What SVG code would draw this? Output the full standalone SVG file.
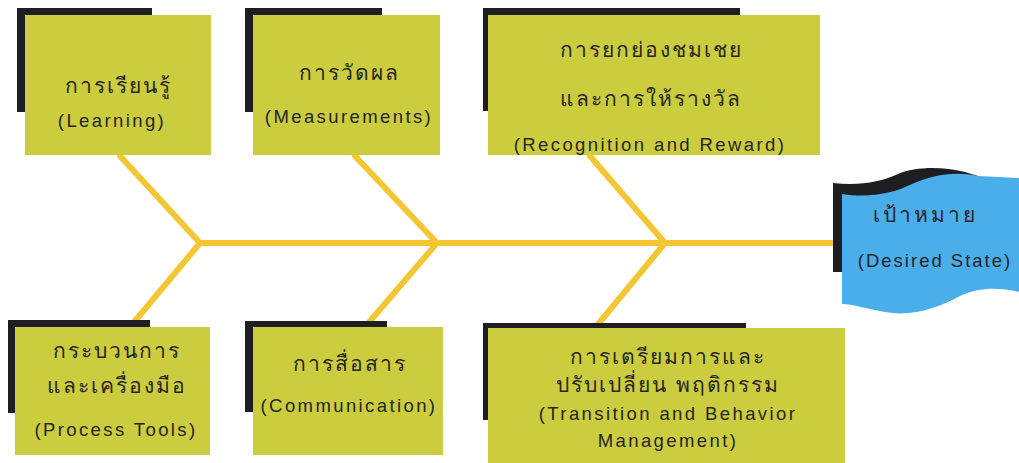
<svg xmlns="http://www.w3.org/2000/svg" width="1019" height="463" viewBox="0 0 1019 463">
<style>
.sh{fill:#1e1e22}
.bx{fill:#cccd3e}
.ln{stroke:#f3c634;stroke-width:6;fill:none;stroke-linecap:round;stroke-linejoin:round}
.th{font-family:"Noto Sans","DejaVu Sans",sans-serif;font-size:21px;fill:#262626;text-anchor:middle;letter-spacing:2px}
.en{font-family:"Liberation Sans",Arial,sans-serif;font-size:18.5px;fill:#262626;text-anchor:middle;letter-spacing:2.4px}
</style>
<rect width="1019" height="463" fill="#ffffff"/>
<g id="connectors">
<path class="ln" d="M200,243 L836,243"/>
<path class="ln" d="M120,156 L200,243 L130,327"/>
<path class="ln" d="M355,156 L437,243 L365,327"/>
<path class="ln" d="M590,156 L665,243 L595,328"/>
</g>
<g id="learning">
<rect class="sh" x="17" y="8" width="135" height="104"/>
<rect class="bx" x="25" y="15" width="186" height="140"/>
<text class="th" x="118" y="93">การเรียนรู้</text>
<text class="en" x="112" y="127">(Learning)</text>
</g>
<g id="measurements">
<rect class="sh" x="245" y="8" width="137" height="104"/>
<rect class="bx" x="253" y="15" width="187" height="140"/>
<text class="th" x="349" y="80">การวัดผล</text>
<text class="en" x="349" y="123">(Measurements)</text>
</g>
<g id="recognition">
<rect class="sh" x="483" y="8" width="257" height="103"/>
<rect class="bx" x="488" y="15" width="332" height="140"/>
<text class="th" x="651" y="57">การยกย่องชมเชย</text>
<text class="th" x="651" y="106">และการให้รางวัล</text>
<text class="en" x="650" y="151">(Recognition and Reward)</text>
</g>
<g id="desired-state">
<path class="sh" d="M833,183 C860,186 880,182 898,174 C915,167 940,166 965,172 L978,176 L978,250 L846,250 L846,272 L833,272 Z"/>
<path fill="#4aaeea" d="M842,194 C868,198 892,194 912,184 C932,175 955,171 978,176 L1019,178 L1019,292 C1000,287 978,287 960,296 C938,308 912,317 885,312 C868,309 852,304 842,304 Z"/>
<text class="th" x="925" y="222" style="letter-spacing:3px">เป้าหมาย</text>
<text class="en" x="935" y="267" style="letter-spacing:2px">(Desired State)</text>
</g>
<g id="process-tools">
<rect class="sh" x="8" y="320" width="142" height="93"/>
<rect class="bx" x="15" y="327" width="195" height="128"/>
<text class="th" x="117" y="358">กระบวนการ</text>
<text class="th" x="117" y="393">และเครื่องมือ</text>
<text class="en" x="116" y="436">(Process Tools)</text>
</g>
<g id="communication">
<rect class="sh" x="245" y="321" width="142" height="91"/>
<rect class="bx" x="253" y="327" width="190" height="128"/>
<text class="th" x="350" y="371">การสื่อสาร</text>
<text class="en" x="349" y="412">(Communication)</text>
</g>
<g id="transition">
<rect class="sh" x="483" y="323" width="263" height="97"/>
<rect class="bx" x="488" y="328" width="357" height="135"/>
<text class="th" x="668" y="364">การเตรียมการและ</text>
<text class="th" x="668" y="392">ปรับเปลี่ยน พฤติกรรม</text>
<text class="en" x="668" y="420">(Transition and Behavior</text>
<text class="en" x="668" y="447">Management)</text>
</g>
</svg>
